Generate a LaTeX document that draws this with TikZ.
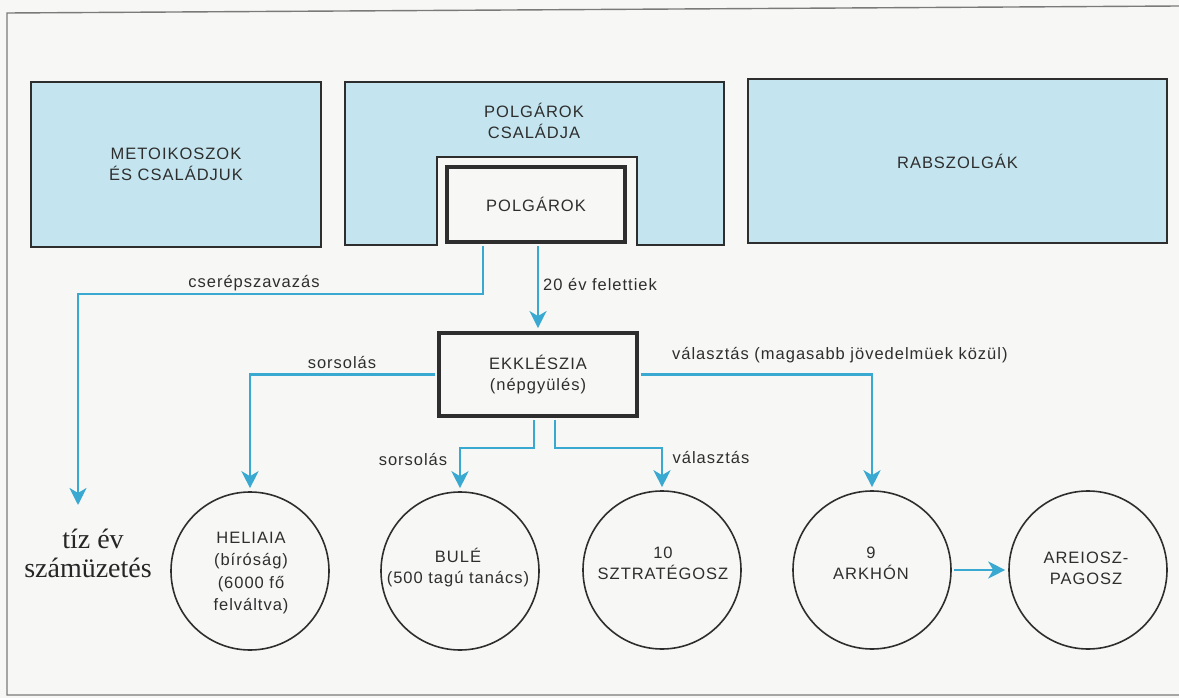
\documentclass[tikz,border=0pt]{standalone}
\usepackage{fontspec}
\setmainfont{Liberation Sans}
\newfontfamily\lab[LetterSpace=6]{Liberation Sans}
\newfontfamily\ser{Liberation Serif}
\usetikzlibrary{arrows.meta,calc}
\definecolor{bluefill}{HTML}{C4E5EF}
\definecolor{arrblue}{HTML}{3AA9D2}
\definecolor{ink}{HTML}{2E2E2E}
\definecolor{paper}{HTML}{F7F7F5}
\definecolor{framec}{HTML}{7A7A7A}
\tikzset{
  lbl/.style={font=\lab\fontsize{16.5}{21}\selectfont, text=ink, inner sep=0pt, align=center},
  serlbl/.style={font=\ser\fontsize{28}{30}\selectfont, text=black!85, inner sep=0pt, anchor=base},
  bluebox/.style={lbl, rectangle, fill=bluefill, draw=ink, line width=1.2pt},
  thickbox/.style={lbl, rectangle, fill=paper, draw=ink, line width=3.8pt},
  circ/.style={circle, draw=ink, line width=1.6pt, minimum size=158pt, inner sep=0pt},
  arr/.style={draw=arrblue, line width=2.6pt, -{Stealth[length=17pt,width=17pt,inset=5pt]}, shorten >=3pt, shorten <=1.9pt}
}
\begin{document}
\begin{tikzpicture}[x=1pt,y=-1pt]
\useasboundingbox (0,0) rectangle (1179,698);
\fill[paper] (0,0) rectangle (1179,698);
% frame
\draw[framec, line width=1.4pt] (1179,6) -- (7,13) -- (7,695) -- (1179,695);

% top row
\node[bluebox, minimum width=290pt, minimum height=165pt] (met) at (176,164.5) {METOIKOSZOK\\ÉS CSALÁDJUK};
\node[bluebox, minimum width=419pt, minimum height=164pt] (rab) at (957.5,161) {RABSZOLGÁK};
\filldraw[fill=bluefill, draw=ink, line width=1.2pt]
  (345,82) -- (724,82) -- (724,245) -- (637,245) -- (637,157) -- (437,157) -- (437,245) -- (345,245) -- cycle;
\node[lbl] (pcs) at (534,121) {POLGÁROK\\CSALÁDJA};
\node[thickbox, minimum width=178pt, minimum height=75pt] (pol) at (536,204.5) {POLGÁROK};

% assembly
\node[thickbox, minimum width=198pt, minimum height=83pt] (ekk) at (538,374.5) {EKKLÉSZIA\\(népgyülés)};

% circles
\node[circ] (hel) at (250,571) {};
\node[circ] (bul) at (460,571) {};
\node[circ] (szt) at (662,570) {};
\node[circ] (ark) at (872,570) {};
\node[circ] (are) at (1088,570) {};
\node[lbl, font=\lab\fontsize{16.5}{22.3}\selectfont] (thel) at (251,573) {HELIAIA\\(bíróság)\\(6000 fő\\felváltva)};
\node[lbl] (tbul) at (458,567.5) {BULÉ\\(500 tagú tanács)};
\node[lbl] (tszt) at (663,563) {10\\SZTRATÉGOSZ};
\node[lbl] (tark) at (871,563) {9\\ARKHÓN};
\node[lbl] (tare) at (1086,568) {AREIOSZ-\\PAGOSZ};

% exile text
\node[serlbl] (tiz) at (93,548) {tíz év};
\node[serlbl] (szam) at (88,577) {számüzetés};

% labels
\node[lbl] (lcs) at (254,283) {cserépszavazás};
\node[lbl, anchor=west] (l20) at (543,285) {20 év felettiek};
\node[lbl] (ls1) at (342,363) {sorsolás};
\node[lbl, anchor=west] (lva) at (672,355) {választás (magasabb jövedelmüek közül)};
\node[lbl] (ls2) at (413,460) {sorsolás};
\node[lbl] (lv2) at (711,458) {választás};

% connectors
\coordinate (c1) at (483,294);
\coordinate (exile) at (78,508);
\coordinate (b1) at (534,448);
\coordinate (s1) at (555,448);
\draw[arr] (pol.south -| c1) -- (c1) -| (exile);
\draw[arr] (pol.south -| ekk.north) -- (ekk.north);
\draw[arr] (ekk.west) -| (hel.north);
\draw[arr] (ekk.south -| b1) -- (b1) -| (bul.north);
\draw[arr] (ekk.south -| s1) -- (s1) -| (szt.north);
\draw[arr] (ekk.east) -| (ark.north);
\draw[arr] (ark.east) -- (are.west);
\end{tikzpicture}
\end{document}
